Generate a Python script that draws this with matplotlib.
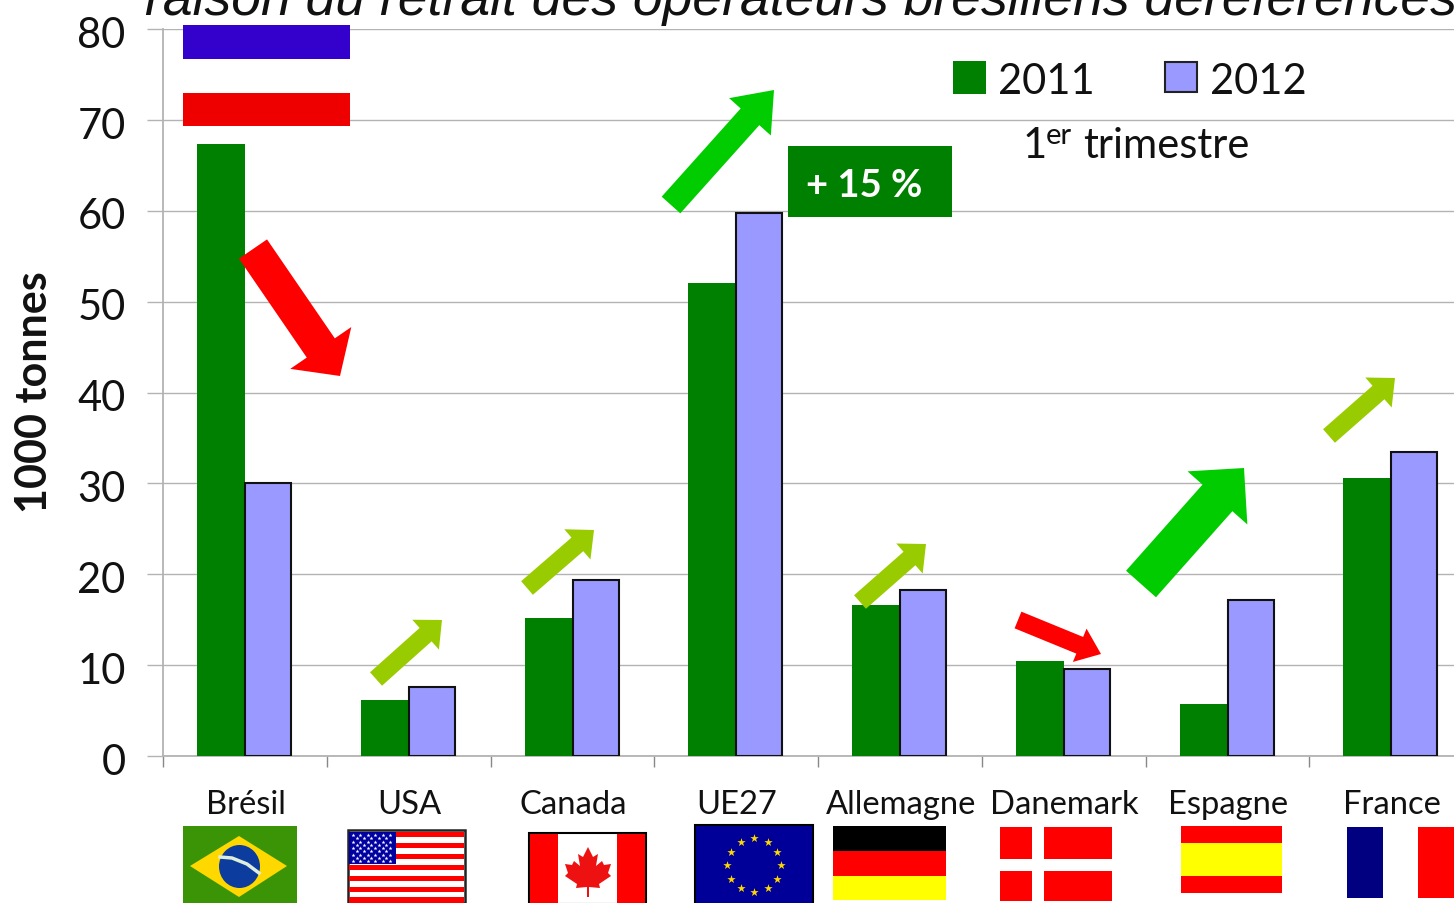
import numpy as np
import matplotlib
matplotlib.use("Agg")
import matplotlib.pyplot as plt
from matplotlib.patches import Rectangle, Polygon, Ellipse

categories = ["Brésil", "USA", "Canada", "UE27", "Allemagne", "Danemark", "Espagne", "France"]
values_2011 = [67.3, 6.2, 15.2, 52.0, 16.6, 10.4, 5.7, 30.6]
values_2012 = [30.0, 7.6, 19.4, 59.8, 18.3, 9.6, 17.2, 33.5]
yticks = [0, 10, 20, 30, 40, 50, 60, 70, 80]
title_text = "raison du retrait des opérateurs brésiliens déréférencés"

W, H = 1454, 904
GREEN, LILAC = "#008000", "#9999FF"
GRID = "#b3b3b3"
FONT = "Lato"

fig = plt.figure(figsize=(W / 100, H / 100), dpi=100, facecolor="white")
ax = fig.add_axes([163 / W, (H - 757) / H, 1310 / W, 727 / H])
x = np.arange(len(categories)) + 0.5
ax.bar(x + 0.001, values_2011, -0.293, align="edge", color=GREEN, zorder=3)
ax.bar(x + 0.001, values_2012, 0.281, align="edge", color=LILAC, edgecolor="#111111", linewidth=1.5, zorder=3)
ax.set_xlim(0, 8)
ax.set_ylim(0, 80)
ax.set_yticks(yticks)
ax.set_yticklabels([])
for t in yticks:
    ax.annotate(str(t), xy=(0, t), xycoords=ax.get_yaxis_transform(), xytext=(-27, -1.6),
                textcoords="offset points", ha="right", va="center_baseline", fontsize=30, family=FONT,
                color="#111111", annotation_clip=False)
ax.set_xticks(np.arange(0, 9))
ax.set_xticklabels([])
ax.set_xticks(x + 0.006, minor=True)
ax.set_xticklabels(categories, minor=True, fontsize=23.6, family=FONT, color="#111111")
ax.tick_params(axis="x", which="major", length=8, width=1, color="#888888")
ax.tick_params(axis="x", which="minor", length=0, pad=24)
ax.tick_params(axis="y", length=11.5, width=1, color=GRID, pad=15)
ax.grid(axis="y", color=GRID, linewidth=1, zorder=0)
ax.set_axisbelow(True)
for s in ("top", "right"):
    ax.spines[s].set_visible(False)
for s in ("left", "bottom"):
    ax.spines[s].set_color(GRID)
    ax.spines[s].set_linewidth(1.3)
ax.set_ylabel("1000 tonnes", fontsize=31, fontweight="bold", family=FONT, color="#111111")
ax.yaxis.set_label_coords((54 - 163) / 1310, (757 - 392) / 727)

# pixel-space overlay for annotations and flags
ov = fig.add_axes([0, 0, 1, 1], facecolor="none")
ov.set_xlim(0, W)
ov.set_ylim(H - 1, -1)
ov.axis("off")


def rect(x0, y0, x1, y1, color, **kw):
    ov.add_patch(Rectangle((x0, y0), x1 - x0, y1 - y0, facecolor=color, edgecolor=kw.pop("edgecolor", "none"), **kw))


def arrow(tail, tip, w, hw, hl, color):
    t, p = np.array(tail, float), np.array(tip, float)
    d = (p - t) / np.linalg.norm(p - t)
    n = np.array([-d[1], d[0]])
    b = p - d * hl
    pts = [t + n * w / 2, b + n * w / 2, b + n * hw / 2, p, b - n * hw / 2, b - n * w / 2, t - n * w / 2]
    ov.add_patch(Polygon(pts, closed=True, facecolor=color, edgecolor="none", zorder=5))


ov.text(145, 14, title_text, fontsize=38.5, style="italic", family="Liberation Sans",
        ha="left", va="baseline", color="#111111", clip_on=False)

rect(183, 25, 350, 59, "#3300CC", zorder=4)
rect(183, 93, 350, 126, "#EE0000", zorder=4)

OLIVE, BRIGHT, RED = "#99CC00", "#00CC00", "#FF0000"
arrow((253, 249), (340, 376), 34, 74, 34, RED)
arrow((376, 679), (442, 620), 18, 40, 22, OLIVE)
arrow((527, 588), (594, 530), 18, 40, 22, OLIVE)
arrow((860, 602), (926, 544), 18, 40, 22, OLIVE)
arrow((1329, 436), (1395, 378), 18, 40, 22, OLIVE)
arrow((671, 205), (774, 90), 25, 56, 36, BRIGHT)
arrow((1018, 620), (1101, 654), 18, 36, 23, RED)
arrow((1141, 584), (1244, 468), 40, 80, 40, BRIGHT)

rect(788, 146, 952, 217, GREEN, zorder=4)
ov.text(864, 185, "+ 15 %", fontsize=27.5, fontweight="bold", family=FONT, color="white",
        ha="center", va="center", zorder=6)

rect(953, 61, 986, 94, GREEN)
rect(1165, 62, 1197, 92, LILAC, edgecolor="#222222", linewidth=1.5)
ov.text(998, 81, "2011", fontsize=30, family=FONT, va="center", color="#111111")
ov.text(1210, 81, "2012", fontsize=30, family=FONT, va="center", color="#111111")
ov.text(1023, 145, "1", fontsize=30, family=FONT, va="center", color="#111111")
ov.text(1046, 135, "er", fontsize=21, family=FONT, va="center", color="#111111")
ov.text(1083, 145, "trimestre", fontsize=30, family=FONT, va="center", color="#111111")

# Brazil
rect(183, 826, 297, 904, "#3A9406")
ov.add_patch(Polygon([(190, 866), (239, 836), (287, 866), (239, 897)], facecolor="#FFD800"))
ov.add_patch(Ellipse((239.5, 866.5), 41, 43, facecolor="#0B3C9E"))
ov.plot([220, 232, 247, 259], [857, 858, 864, 873], color="#DDEEDD", lw=2.5)
# USA
rect(348, 830, 465, 903, "white", edgecolor="#222222", linewidth=1.8)
for i in range(0, 13, 2):
    rect(349, 832 + i * 5.45, 464, 832 + (i + 1) * 5.45, "#FF0000")
rect(349, 832, 396, 864, "#0000A0")
sx, sy = np.meshgrid(np.linspace(353, 390, 6), np.linspace(835, 861, 5))
ov.scatter(sx.ravel(), sy.ravel(), s=9, c="white", marker="*", linewidths=0)
tx, ty = np.meshgrid(np.linspace(356.5, 386, 5), np.linspace(838, 858, 4))
ov.scatter(tx.ravel(), ty.ravel(), s=9, c="white", marker="*", linewidths=0)
# Canada
rect(529, 833, 646, 904, "white", edgecolor="black", linewidth=1.5)
rect(530, 834, 558, 903, "#FF0000")
rect(617, 834, 645, 903, "#FF0000")
leaf = np.array([(0, -23), (5, -13), (10, -16), (8, -4), (14, -9), (16, -5), (23, -6), (20, 3), (23, 6),
                 (11, 14), (12, 18), (1, 17), (1, 27), (-1, 27), (-1, 17), (-12, 18), (-11, 14),
                 (-23, 6), (-20, 3), (-23, -6), (-16, -5), (-14, -9), (-8, -4), (-10, -16), (-5, -13)], float)
ov.add_patch(Polygon(leaf + [588, 870], facecolor="#EE1111", edgecolor="none"))
# EU
rect(695, 825, 813, 904, "#000099", edgecolor="black", linewidth=1.5)
ang = np.arange(12) * np.pi / 6
ov.scatter(754 + 27 * np.cos(ang), 865 + 27 * np.sin(ang), s=40, c="#FFD800", marker="*", linewidths=0)
# Germany
rect(833, 826, 946, 851, "black")
rect(833, 851, 946, 876, "#FF0000")
rect(833, 876, 946, 900, "#FFFF00")
# Denmark
rect(1000, 827, 1112, 901, "#FF0000")
rect(1032, 827, 1044, 901, "white")
rect(1000, 859, 1112, 871, "white")
# Spain
rect(1181, 826, 1282, 893, "#FF0000")
rect(1181, 843, 1282, 876, "#FFFF00")
# France
rect(1347, 827, 1383, 898, "#000080")
rect(1418, 827, 1454, 898, "#FF0000")

fig.savefig("out.png", dpi=100)
